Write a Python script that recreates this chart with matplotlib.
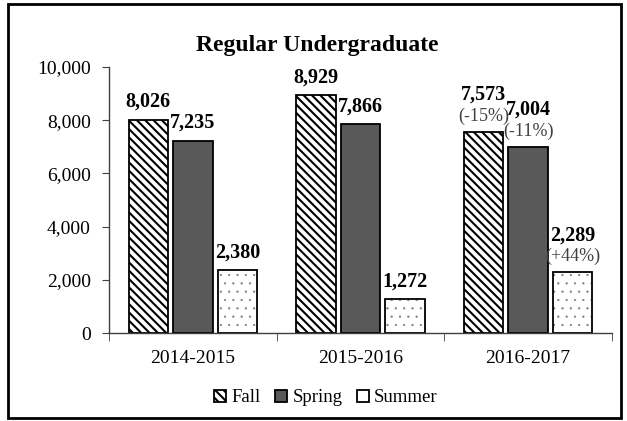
import matplotlib.pyplot as plt
import numpy as np
from matplotlib.patches import Rectangle
from matplotlib.ticker import FuncFormatter

years = ["2014-2015", "2015-2016", "2016-2017"]
fall = [8026, 8929, 7573]
spring = [7235, 7866, 7004]
summer = [2380, 1272, 2289]
fall_pct = [None, None, "(-15%)"]
spring_pct = [None, None, "(-11%)"]
summer_pct = [None, None, "(+44%)"]

plt.rcParams['font.family'] = ['Liberation Serif', 'DejaVu Serif']
plt.rcParams['hatch.linewidth'] = 1.5

fig = plt.figure(figsize=(6.27, 4.21), dpi=100)
ax = fig.add_axes([109 / 627, 88 / 421, 503 / 627, 266 / 421])

x = np.arange(len(years))
w = 0.235
off = 0.265
series = [
    (fall, fall_pct, "Fall", dict(color="white", hatch="\\\\\\\\")),
    (spring, spring_pct, "Spring", dict(color="#595959")),
    (summer, summer_pct, "Summer", dict(color="white", hatch="..")),
]

for i, (vals, pcts, name, style) in enumerate(series):
    pos = x + (i - 1) * off
    if name == "Summer":
        # dotted fill in grey, outline drawn on top in black
        dots = ax.bar(pos, vals, w, edgecolor="#808080", linewidth=0, **style)
        for b in dots:
            if hasattr(b, "set_hatch_linewidth"):
                b.set_hatch_linewidth(0.4)
        bars = ax.bar(pos, vals, w, label=name, fill=False, edgecolor="black",
                      linewidth=1.3)
    else:
        bars = ax.bar(pos, vals, w, label=name, edgecolor="black",
                      linewidth=1.3, **style)
    for b, v, p in zip(bars, vals, pcts):
        cx = b.get_x() + b.get_width() / 2
        base = 9
        if p:
            ax.annotate(p, (cx, v), xytext=(0, 8), textcoords="offset points",
                        ha="center", va="baseline", fontsize=13, color="#404040")
            base = 23
        ax.annotate(f"{v:,}", (cx, v), xytext=(0, base), textcoords="offset points",
                    ha="center", va="baseline", fontsize=14.5, fontweight="bold")

ax.set_xlim(-0.5, 2.5)
ax.set_ylim(0, 10000)
ax.set_yticks(np.arange(0, 10001, 2000))
ax.yaxis.set_major_formatter(FuncFormatter(lambda v, _: f"{int(v):,}"))
ax.set_xticks(x)
ax.set_xticklabels(years)
ax.set_xticks([-0.5, 0.5, 1.5, 2.5], minor=True)
ax.tick_params(axis="x", which="major", length=0, pad=12, labelsize=14)
ax.tick_params(axis="x", which="minor", length=6, direction="out", color="#404040")
ax.tick_params(axis="y", length=5, direction="out", pad=8, labelsize=14, color="#404040")
for s in ["top", "right"]:
    ax.spines[s].set_visible(False)
for s in ["left", "bottom"]:
    ax.spines[s].set_color("#404040")
    ax.spines[s].set_linewidth(1.0)

fig.text(317 / 627, 1 - 45 / 421, "Regular Undergraduate", ha="center", va="center",
         fontsize=17, fontweight="bold")

# legend uses the hatched/filled bars (summer handle from the dotted layer)
handles, labels = ax.get_legend_handles_labels()
fig.legend(handles, labels, loc="center", bbox_to_anchor=(326 / 627, 1 - 398 / 421),
           ncol=3, frameon=False, fontsize=13.5, handlelength=0.6, handleheight=0.6,
           handletextpad=0.3, columnspacing=0.8)

fig.patches.append(Rectangle((8 / 627, 3 / 421), 613 / 627, 414 / 421,
                             transform=fig.transFigure, fill=False,
                             edgecolor="black", linewidth=2))

fig.savefig("out.png", dpi=100)
